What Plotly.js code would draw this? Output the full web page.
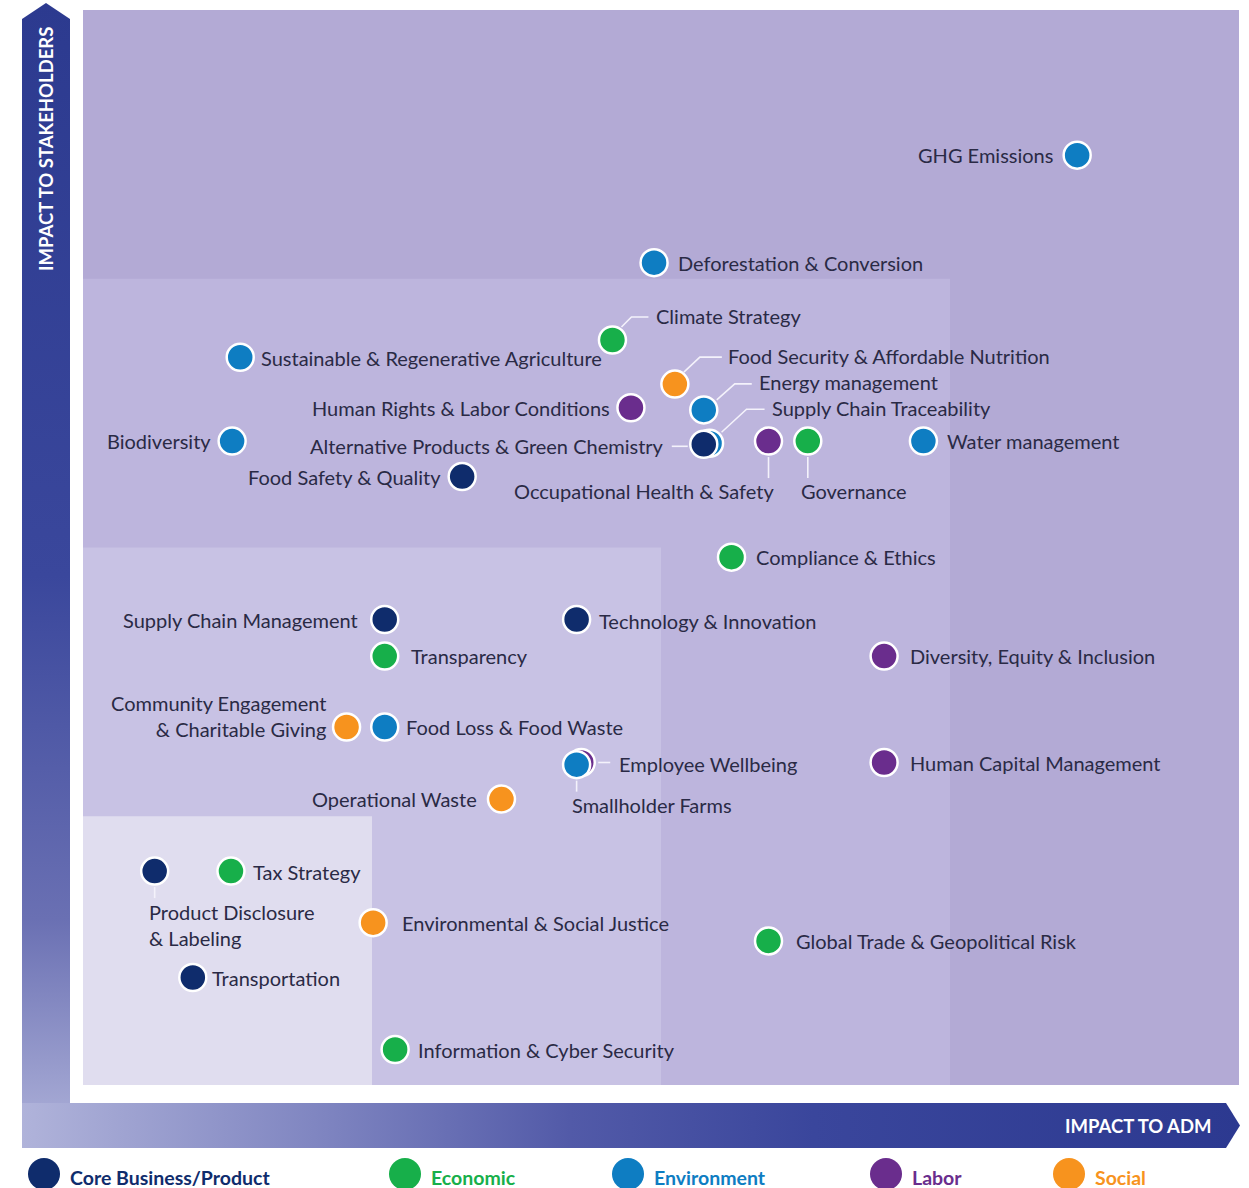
<!DOCTYPE html>
<html>
<head>
<meta charset="utf-8">
<script src="https://cdn.plot.ly/plotly-3.0.1.min.js"></script>
<style>
  html, body { margin: 0; padding: 0; background: #ffffff; }
  #chart { width: 1249px; height: 1188px; }
</style>
</head>
<body>
<div id="chart"></div>
<script>
// ---------------- DATA ----------------
const topics = [
  'GHG Emissions',
  'Deforestation & Conversion',
  'Climate Strategy',
  'Sustainable & Regenerative Agriculture',
  'Food Security & Affordable Nutrition',
  'Energy management',
  'Human Rights & Labor Conditions',
  'Supply Chain Traceability',
  'Alternative Products & Green Chemistry',
  'Occupational Health & Safety',
  'Governance',
  'Water management',
  'Biodiversity',
  'Food Safety & Quality',
  'Compliance & Ethics',
  'Supply Chain Management',
  'Technology & Innovation',
  'Transparency',
  'Diversity, Equity & Inclusion',
  'Community Engagement & Charitable Giving',
  'Food Loss & Food Waste',
  'Employee Wellbeing',
  'Smallholder Farms',
  'Human Capital Management',
  'Operational Waste',
  'Product Disclosure & Labeling',
  'Tax Strategy',
  'Environmental & Social Justice',
  'Global Trade & Geopolitical Risk',
  'Transportation',
  'Information & Cyber Security'
];

const topicCategory = [
  'Environment', 'Environment', 'Economic', 'Environment', 'Social',
  'Environment', 'Labor', 'Environment', 'Core Business/Product', 'Labor',
  'Economic', 'Environment', 'Environment', 'Core Business/Product', 'Economic',
  'Core Business/Product', 'Core Business/Product', 'Economic', 'Labor', 'Social',
  'Environment', 'Labor', 'Environment', 'Labor', 'Social',
  'Core Business/Product', 'Economic', 'Social', 'Economic', 'Core Business/Product',
  'Economic'
];

// Impact to ADM (x) and Impact to Stakeholders (y), 0-100 scale
const impactADM = [
  86.0, 49.4, 45.8, 13.6, 51.2,
  53.7, 47.4, 54.2, 53.7, 59.3,
  62.7, 72.7, 12.9, 32.8, 56.1,
  26.1, 42.7, 26.1, 69.3, 22.8,
  26.1, 43.1, 42.7, 69.3, 36.2,
  6.2, 12.8, 25.1, 59.3, 9.5,
  27.0
];

const impactStakeholders = [
  86.5, 76.5, 69.3, 67.7, 65.2,
  62.8, 63.0, 59.7, 59.6, 59.9,
  59.9, 59.9, 59.9, 56.6, 49.1,
  43.3, 43.3, 39.9, 39.9, 33.3,
  33.3, 30.0, 29.8, 30.0, 26.6,
  19.9, 19.9, 15.1, 13.4, 10.0,
  3.3
];

const categoryNames = ['Core Business/Product', 'Economic', 'Environment', 'Labor', 'Social'];

const axisTitleY = 'IMPACT TO STAKEHOLDERS';
const axisTitleX = 'IMPACT TO ADM';

// ---------------- STYLE ----------------
const categoryColors = {
  'Core Business/Product': '#0f2c6c',
  'Economic': '#17af4a',
  'Environment': '#0e7dc2',
  'Labor': '#6a2d8d',
  'Social': '#f7931e'
};
const drawOrder = ['Labor', 'Social', 'Economic', 'Environment', 'Core Business/Product'];
const textColor = '#2a2a45';
const labelFont = 'Lato, "Open Sans", sans-serif';
const labelSize = 20;

// figure geometry (pixels)
const W = 1249, H = 1188;
const M = { l: 83, r: 10, t: 10, b: 103 };
const PW = W - M.l - M.r, PH = H - M.t - M.b;
const pxX = px => (px - M.l) / PW;
const pxY = py => (H - M.b - py) / PH;

// label placement (screen pixel offsets from marker centre; dy positive = down)
const labelPlacement = {
  'GHG Emissions': { a: 'right', dx: -22 },
  'Deforestation & Conversion': { a: 'left', dx: 22 },
  'Climate Strategy': { a: 'left', dx: 42, dy: -24, lead: [[9, -13], [19, -23], [36, -23]] },
  'Sustainable & Regenerative Agriculture': { a: 'left', dx: 19, dy: 1 },
  'Food Security & Affordable Nutrition': { a: 'left', dx: 51, dy: -28, lead: [[9, -12], [25, -27], [47, -27]] },
  'Energy management': { a: 'left', dx: 53, dy: -28, lead: [[13, -10], [31, -26], [48, -26]] },
  'Human Rights & Labor Conditions': { a: 'right', dx: -19 },
  'Supply Chain Traceability': { a: 'left', dx: 60, dy: -35, lead: [[12, -11], [37, -34], [55, -34]] },
  'Alternative Products & Green Chemistry': { a: 'right', dx: -38, dy: 2, lead: [[-32, 2], [-16, 2]] },
  'Occupational Health & Safety': { a: 'right', dx: 7, dy: 50, lead: [[0, 16], [0, 37]] },
  'Governance': { a: 'left', dx: -9, dy: 50, lead: [[0, 16], [0, 37]] },
  'Water management': { a: 'left', dx: 22 },
  'Biodiversity': { a: 'right', dx: -19 },
  'Food Safety & Quality': { a: 'right', dx: -19 },
  'Compliance & Ethics': { a: 'left', dx: 22 },
  'Supply Chain Management': { a: 'right', dx: -25 },
  'Technology & Innovation': { a: 'left', dx: 20, dy: 1 },
  'Transparency': { a: 'left', dx: 24 },
  'Diversity, Equity & Inclusion': { a: 'left', dx: 24 },
  'Community Engagement & Charitable Giving': { a: 'right', dx: -19, dy: -11, wrap: 'Community Engagement<br>& Charitable Giving' },
  'Food Loss & Food Waste': { a: 'left', dx: 19 },
  'Employee Wellbeing': { a: 'left', dx: 36, dy: 1, lead: [[17, 0], [29, 0]] },
  'Smallholder Farms': { a: 'left', dx: -7, dy: 40, lead: [[0, 16], [0, 27]] },
  'Human Capital Management': { a: 'left', dx: 24 },
  'Operational Waste': { a: 'right', dx: -22 },
  'Product Disclosure & Labeling': { a: 'left', dx: -8, dy: 54, lead: [[0, 16], [0, 27]], wrap: 'Product Disclosure<br>& Labeling' },
  'Tax Strategy': { a: 'left', dx: 20, dy: 1 },
  'Environmental & Social Justice': { a: 'left', dx: 27 },
  'Global Trade & Geopolitical Risk': { a: 'left', dx: 25 },
  'Transportation': { a: 'left', dx: 17 },
  'Information & Cyber Security': { a: 'left', dx: 21 }
};

// legend positions (pixel centres of legend circles)
const legendCx = [44, 405, 628, 886, 1069];
const legendCy = 1174;

// ---------------- TRACES ----------------
const traces = drawOrder.map(cat => {
  const idx = topics.map((t, i) => i).filter(i => topicCategory[i] === cat);
  return {
    type: 'scatter',
    mode: 'markers',
    name: cat,
    x: idx.map(i => impactADM[i]),
    y: idx.map(i => impactStakeholders[i]),
    text: idx.map(i => topics[i]),
    hovertemplate: '%{text}<extra>' + cat + '</extra>',
    marker: { size: 27, color: categoryColors[cat], line: { color: '#ffffff', width: 2.5 } },
    showlegend: false
  };
});

// ---------------- SHAPES ----------------
const shapes = [];
// nested materiality zones
const zones = [
  { v: 100, c: '#b3aad5' },
  { v: 75, c: '#bdb5dd' },
  { v: 50, c: '#c8c2e4' },
  { v: 25, c: '#e0ddef' }
];
zones.forEach(z => shapes.push({
  type: 'rect', xref: 'x', yref: 'y', x0: 0, y0: 0, x1: z.v, y1: z.v,
  fillcolor: z.c, line: { width: 0 }, layer: 'below'
}));

// leader lines
const toPath = pts => pts.map((p, i) => (i ? 'L' : 'M') + p[0] + ',' + (-p[1])).join(' ');
topics.forEach((t, i) => {
  const pl = labelPlacement[t];
  if (pl && pl.lead) {
    shapes.push({
      type: 'path', xref: 'x', yref: 'y',
      xsizemode: 'pixel', ysizemode: 'pixel',
      xanchor: impactADM[i], yanchor: impactStakeholders[i],
      path: toPath(pl.lead),
      line: { color: '#f4f2fb', width: 1.6 },
      layer: 'above'
    });
  }
});

// legend circles
categoryNames.forEach((c, k) => {
  shapes.push({
    type: 'circle', xref: 'paper', yref: 'paper',
    x0: pxX(legendCx[k] - 16), x1: pxX(legendCx[k] + 16),
    y0: pxY(legendCy + 16), y1: pxY(legendCy - 16),
    fillcolor: categoryColors[c], line: { width: 0 }
  });
});

// ---------------- ANNOTATIONS ----------------
const annotations = [];
topics.forEach((t, i) => {
  const pl = labelPlacement[t] || { a: 'left', dx: 20 };
  annotations.push({
    x: impactADM[i], y: impactStakeholders[i], xref: 'x', yref: 'y',
    text: pl.wrap || t,
    showarrow: false,
    xanchor: pl.a, yanchor: 'middle',
    align: pl.a,
    xshift: pl.dx || 0, yshift: -(pl.dy || 0),
    font: { family: labelFont, size: labelSize, color: textColor }
  });
});

// axis titles inside arrows
annotations.push({
  xref: 'paper', yref: 'paper', x: pxX(46), y: pxY(149),
  text: '<b>' + axisTitleY + '</b>', textangle: -90, showarrow: false,
  xanchor: 'center', yanchor: 'middle',
  font: { family: labelFont, size: 18.5, color: '#ffffff' }
});
annotations.push({
  xref: 'paper', yref: 'paper', x: pxX(1138), y: pxY(1126),
  text: '<b>' + axisTitleX + '</b>', showarrow: false,
  xanchor: 'center', yanchor: 'middle',
  font: { family: labelFont, size: 18.5, color: '#ffffff' }
});

// legend labels
categoryNames.forEach((c, k) => {
  annotations.push({
    xref: 'paper', yref: 'paper', x: pxX(legendCx[k] + 24), y: pxY(1177),
    text: '<b>' + c + '</b>', showarrow: false,
    xanchor: 'left', yanchor: 'middle',
    font: { family: labelFont, size: 19.5, color: categoryColors[c] }
  });
});

// ---------------- ARROW IMAGE (gradient axes) ----------------
const svg = '<svg xmlns="http://www.w3.org/2000/svg" width="1249" height="1188" viewBox="0 0 1249 1188">' +
  '<defs>' +
  '<linearGradient id="gy" x1="0" y1="0" x2="0" y2="1">' +
  '<stop offset="0" stop-color="#2c3a8f"/><stop offset="0.5" stop-color="#3a479c"/>' +
  '<stop offset="0.8" stop-color="#6a70b3"/><stop offset="1" stop-color="#b0b3da"/></linearGradient>' +
  '<linearGradient id="gx" x1="0" y1="0" x2="1" y2="0">' +
  '<stop offset="0" stop-color="#b0b3da"/><stop offset="0.25" stop-color="#7e84c0"/>' +
  '<stop offset="0.45" stop-color="#525aa8"/><stop offset="0.65" stop-color="#3a469c"/>' +
  '<stop offset="1" stop-color="#2c3990"/></linearGradient>' +
  '</defs>' +
  '<polygon points="22,19 46,3 70,19 70,1148 22,1148" fill="url(#gy)"/>' +
  '<polygon points="22,1103 1226,1103 1240,1125.5 1226,1148 22,1148" fill="url(#gx)"/>' +
  '</svg>';
const svgUri = 'data:image/svg+xml;charset=utf-8,' + encodeURIComponent(svg);

const layout = {
  width: W, height: H,
  margin: M,
  paper_bgcolor: '#ffffff',
  plot_bgcolor: 'rgba(0,0,0,0)',
  showlegend: false,
  xaxis: { range: [0, 100], showgrid: false, zeroline: false, showticklabels: false, showline: false, ticks: '', fixedrange: true },
  yaxis: { range: [0, 100], showgrid: false, zeroline: false, showticklabels: false, showline: false, ticks: '', fixedrange: true },
  shapes: shapes,
  annotations: annotations,
  images: [{
    source: svgUri, xref: 'paper', yref: 'paper',
    x: pxX(0), y: pxY(0), sizex: W / PW, sizey: H / PH,
    xanchor: 'left', yanchor: 'top', sizing: 'stretch', layer: 'below'
  }],
  hovermode: 'closest'
};

Plotly.newPlot('chart', traces, layout, { displayModeBar: false, staticPlot: false });
</script>
</body>
</html>
